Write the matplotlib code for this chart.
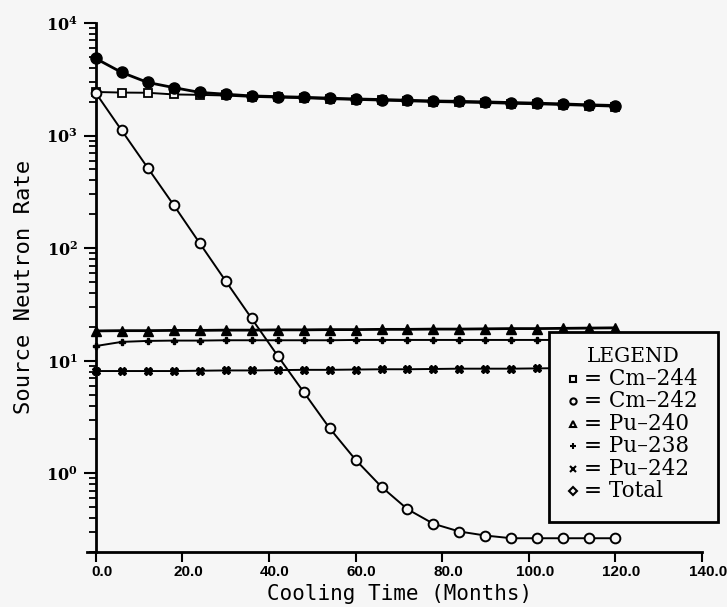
import math
import matplotlib
matplotlib.use('Agg')
import matplotlib.pyplot as plt
from matplotlib.ticker import FixedLocator, LogLocator, FuncFormatter, NullFormatter
from matplotlib.lines import Line2D
from matplotlib.patches import Rectangle
import matplotlib.transforms as mtransforms

plt.rcParams['mathtext.fontset'] = 'dejavuserif'

# cooling time, every 6 months
months = [0, 6, 12, 18, 24, 30, 36, 42, 48, 54, 60, 66, 72, 78, 84, 90, 96, 102, 108, 114, 120]

cm244 = [2440, 2410, 2400, 2320, 2300, 2270, 2210, 2180, 2150, 2110, 2080,
         2050, 2020, 1990, 1970, 1950, 1920, 1900, 1870, 1840, 1810]
cm242 = [2400, 1112, 518, 242, 111, 51.2, 23.8, 11.1, 5.29, 2.52, 1.32,
         0.758, 0.48, 0.356, 0.304, 0.28, 0.265, 0.265, 0.265, 0.265, 0.265]
pu240 = [18.4, 18.5, 18.5, 18.6, 18.6, 18.7, 18.7, 18.8, 18.8, 18.9, 18.9,
         19.0, 19.0, 19.1, 19.1, 19.2, 19.3, 19.3, 19.4, 19.5, 19.6]
pu238 = [13.5, 14.7, 15.0, 15.1, 15.1, 15.2, 15.2, 15.2, 15.2, 15.2, 15.3,
         15.3, 15.3, 15.3, 15.3, 15.3, 15.3, 15.3, 15.3, 15.3, 15.3]
pu242 = [8.1, 8.1, 8.1, 8.1, 8.15, 8.2, 8.2, 8.25, 8.3, 8.3, 8.35,
         8.4, 8.4, 8.45, 8.5, 8.5, 8.5, 8.55, 8.6, 8.6, 8.6]
total = [4840, 3640, 2965, 2670, 2420, 2330, 2250, 2220, 2190, 2150, 2115,
         2090, 2060, 2030, 2015, 1990, 1965, 1940, 1910, 1875, 1850]

xticks = [0, 20, 40, 60, 80, 100, 120, 140]
legend_labels = ['= Cm\u2013244', '= Cm\u2013242', '= Pu\u2013240', '= Pu\u2013238', '= Pu\u2013242', '= Total']

bg = '#f6f6f6'
W, H = 727, 607
fig = plt.figure(figsize=(W / 100, H / 100), dpi=100, facecolor=bg)
ax = fig.add_axes([87 / W, 55 / H, (702 - 87) / W, 529 / H])
ax.set_facecolor(bg)

lw = 1.4
ax.plot(months, cm244, color='black', lw=lw, marker='s', ms=6, mfc=bg, mew=1.3, clip_on=False, zorder=3)
ax.plot(months, cm242, color='black', lw=lw, marker='o', ms=7, mfc=bg, mew=1.4, clip_on=False, zorder=3)
ax.plot(months, pu240, color='black', lw=lw + 0.6, marker='^', ms=7, mfc='black', clip_on=False, zorder=3)
ax.plot(months, pu238, color='black', lw=lw, marker='P', ms=5, mfc='black', clip_on=False, zorder=3)
ax.plot(months, pu242, color='black', lw=lw, marker='X', ms=6, mfc='black', clip_on=False, zorder=3)
ax.plot(months, total, color='black', lw=lw + 0.6, marker='o', ms=8, mfc='black', clip_on=False, zorder=4)

ax.set_yscale('log')
ax.set_ylim(0.2, 1e4)
ax.set_xlim(-2, 140)

ax.spines['top'].set_visible(False)
ax.spines['right'].set_visible(False)
ax.spines['left'].set_position(('data', 0))
ax.spines['left'].set_linewidth(2)
ax.spines['bottom'].set_linewidth(2)

ax.xaxis.set_major_locator(FixedLocator(xticks))
ax.xaxis.set_major_formatter(FuncFormatter(lambda v, _: f'{v:.1f}'))
ax.yaxis.set_major_locator(LogLocator(base=10))
ax.yaxis.set_minor_locator(LogLocator(base=10, subs=range(2, 10)))
ax.yaxis.set_minor_formatter(NullFormatter())
ax.yaxis.set_major_formatter(FuncFormatter(lambda v, _: r'$\mathbf{10^{%d}}$' % round(math.log10(v))))

ax.tick_params(axis='x', direction='out', length=7, width=1.5, pad=2, labelsize=11)
ax.tick_params(axis='y', which='major', direction='out', length=9, width=1.5, pad=4, labelsize=11.5)
ax.tick_params(axis='y', which='minor', direction='out', length=5, width=1.3)
for lab in ax.get_xticklabels():
    lab.set_fontfamily('Liberation Sans')
    lab.set_fontweight('bold')
    lab.set_transform(lab.get_transform() + mtransforms.ScaledTranslation(6 / 100, 0, fig.dpi_scale_trans))

ax.set_xlabel('Cooling Time (Months)', family='DejaVu Sans Mono', fontsize=15)
ax.set_ylabel('Source Neutron Rate', family='DejaVu Sans Mono', fontsize=16)
ax.xaxis.set_label_coords((400 - 87) / (702 - 87), (552 - 584) / 529)
ax.yaxis.set_label_coords((34 - 87) / (702 - 87), (552 - 287) / 529)

# legend box drawn in figure coordinates
def fx(px):
    return px / W

def fy(py):
    return 1 - py / H

fig.add_artist(Rectangle((fx(549), fy(522)), fx(718) - fx(549), fy(332) - fy(522),
                         transform=fig.transFigure, fill=True, facecolor=bg,
                         edgecolor='black', lw=2, zorder=5))
fig.text(fx(633), fy(357), 'LEGEND', family='DejaVu Serif', fontsize=14.5,
         ha='center', va='center', zorder=6)
leg_markers = ['s', 'o', '^', '+', 'x', 'D']
for i, (m, lab) in enumerate(zip(leg_markers, legend_labels)):
    yy = 379 + 22.4 * i
    fig.add_artist(Line2D([fx(573)], [fy(yy)], marker=m, ms=4.5, mfc=bg, mec='black',
                          mew=1.5, transform=fig.transFigure, zorder=6))
    fig.text(fx(584), fy(yy), lab, family='DejaVu Serif', fontsize=15.5,
             ha='left', va='center', zorder=6)

fig.savefig('out.png', dpi=100, facecolor=bg)
